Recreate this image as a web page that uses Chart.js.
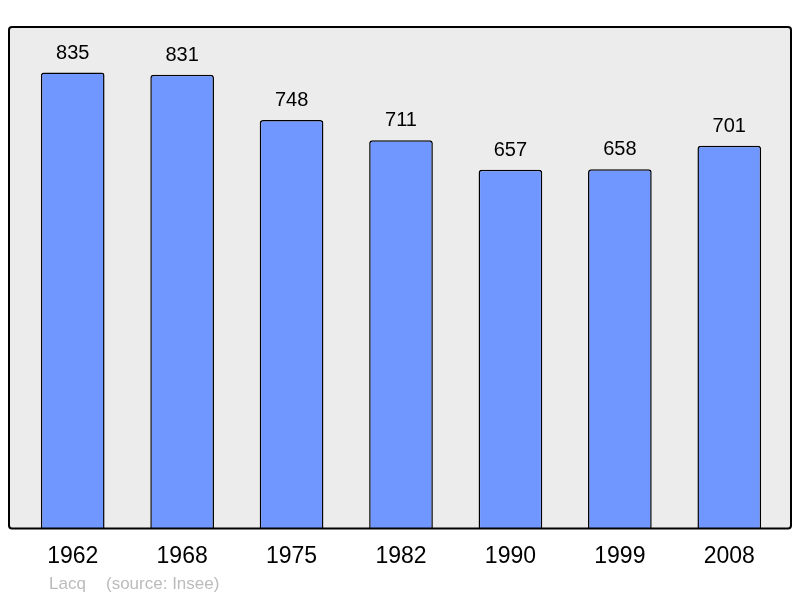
<!DOCTYPE html>
<html>
<head>
<meta charset="utf-8">
<script src="https://cdn.jsdelivr.net/npm/chart.js@4"></script>
<style>
  body { margin: 0; background: #fff; }
  #wrap { width: 800px; height: 598px; }
</style>
</head>
<body>
<div id="wrap"><canvas id="myChart" width="800" height="598"></canvas></div>
<script>
const years = ['1962', '1968', '1975', '1982', '1990', '1999', '2008'];
const population = [835, 831, 748, 711, 657, 658, 701];
const commune = 'Lacq';
const source = '(source: Insee)';

// frame behind the bars, a bit larger than the chart area
const framePlugin = {
  id: 'frame',
  beforeDatasetsDraw(chart) {
    const ctx = chart.ctx;
    const a = chart.chartArea;
    ctx.save();
    ctx.beginPath();
    ctx.roundRect(9, 27, 782, a.bottom - 27, 3);
    ctx.fillStyle = '#ececec';
    ctx.fill();
    ctx.restore();
  },
  afterDatasetsDraw(chart) {
    const ctx = chart.ctx;
    const meta = chart.getDatasetMeta(0);
    ctx.save();
    ctx.font = '20px "Liberation Sans", Arial, sans-serif';
    ctx.fillStyle = '#000';
    ctx.textAlign = 'center';
    ctx.textBaseline = 'alphabetic';
    meta.data.forEach((bar, i) => {
      ctx.fillText(population[i], bar.x, bar.y - 14);
    });
    // frame outline on top
    const a = chart.chartArea;
    ctx.beginPath();
    ctx.roundRect(9, 27, 782, a.bottom - 27, 3);
    ctx.lineWidth = 2;
    ctx.strokeStyle = '#000';
    ctx.stroke();
    ctx.font = '17px "Liberation Sans", Arial, sans-serif';
    ctx.fillStyle = '#bbbbbb';
    ctx.textAlign = 'left';
    ctx.textBaseline = 'middle';
    ctx.fillText(commune, 49, 584);
    ctx.fillText(source, 106, 584);
    ctx.restore();
  }
};

const ctx = document.getElementById('myChart').getContext('2d');
new Chart(ctx, {
  type: 'bar',
  data: {
    labels: years,
    datasets: [{
      data: population,
      backgroundColor: '#7096ff',
      borderColor: '#000',
      borderWidth: 1.5,
      borderSkipped: 'bottom',
      borderRadius: { topLeft: 3, topRight: 3, bottomLeft: 0, bottomRight: 0 },
      barPercentage: 0.582,
      categoryPercentage: 1
    }]
  },
  options: {
    responsive: false,
    animation: false,
    layout: { padding: { left: 18, right: 16, top: 27, bottom: 13 } },
    plugins: {
      legend: { display: false },
      tooltip: { enabled: false }
    },
    scales: {
      x: {
        grid: { display: false, drawTicks: false },
        border: { display: false },
        ticks: {
          color: '#000',
          padding: 14.5,
          font: { family: '"Liberation Sans", Arial, sans-serif', size: 23 }
        }
      },
      y: {
        display: false,
        min: 0,
        max: 918.5
      }
    }
  },
  plugins: [framePlugin]
});
</script>
</body>
</html>
